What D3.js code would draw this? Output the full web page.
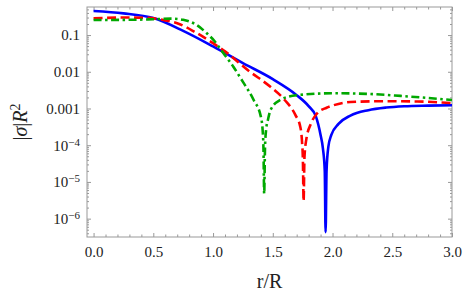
<!DOCTYPE html>
<html>
<head>
<meta charset="utf-8">
<script src="https://cdn.jsdelivr.net/npm/d3@7"></script>
<style>
  body { margin: 0; background: #fff; }
  svg { display: block; }
  text { font-family: "Liberation Serif", "Times New Roman", Times, "DejaVu Serif", serif; }
  .tick text { font-size: 15px; fill: #222; }
  .tick line { stroke: #999; }
</style>
</head>
<body>
<div id="chart"></div>
<script>
// Data: r/R and |sigma| R^2
const blueR = [0, 0.25, 0.5, 0.75, 1.0, 1.25, 1.5, 1.7, 1.8, 1.86, 1.9, 1.92, 1.935, 1.942, 1.95, 1.965, 1.99, 2.05, 2.15, 2.3, 2.45, 2.6, 2.8, 3.0];
const blueV = [0.45, 0.39, 0.29, 0.13, 0.049, 0.0172, 0.0063, 0.00231, 0.00116, 0.00062, 0.00019, 0.00008, 0.00002, 0.00000043, 0.00002, 0.00009, 0.00019, 0.00038, 0.00064, 0.0009, 0.00106, 0.00115, 0.0012, 0.00123];

const redR = [0, 0.25, 0.45, 0.6, 0.7, 0.85, 1.0, 1.1, 1.3, 1.48, 1.6, 1.69, 1.73, 1.745, 1.752, 1.758, 1.765, 1.78, 1.82, 1.87, 1.95, 2.01, 2.15, 2.43, 2.71, 3.0];
const redV = [0.285, 0.3, 0.295, 0.25, 0.21, 0.12, 0.06, 0.036, 0.0105, 0.0039, 0.0017, 0.00066, 0.00032, 0.00012, 0.00004, 0.000003, 0.000045, 0.00014, 0.00039, 0.00073, 0.00105, 0.00123, 0.0015, 0.00158, 0.00155, 0.0014];

const greenR = [0, 0.3, 0.5, 0.65, 0.75, 0.86, 0.95, 1.01, 1.06, 1.17, 1.25, 1.34, 1.4, 1.415, 1.422, 1.428, 1.435, 1.445, 1.46, 1.48, 1.56, 1.7, 2.01, 2.29, 2.57, 3.0];
const greenV = [0.257, 0.26, 0.27, 0.28, 0.26, 0.19, 0.11, 0.07, 0.042, 0.0137, 0.0053, 0.0017, 0.0006, 0.00026, 0.00008, 0.0000048, 0.00009, 0.00028, 0.0005, 0.00089, 0.0017, 0.0023, 0.0026, 0.0025, 0.0022, 0.0017];

const series = [
  {r: blueR, v: blueV, color: '#0000ff', dash: null},
  {r: redR, v: redV, color: '#ff0000', dash: '9,4.5'},
  {r: greenR, v: greenV, color: '#00a800', dash: '8,3.5,2.5,3.5'}
];

const xMajor = [0, 0.5, 1.0, 1.5, 2.0, 2.5, 3.0];
const yMajor = [1e-6, 1e-5, 1e-4, 1e-3, 1e-2, 1e-1];
const yLabels = ['10|-6', '10|-5', '10|-4', '0.001', '0.01', '0.1'];

const w = 464;
const h = 295;
const padding = {t: 7, r: 12, b: 58, l: 87};

const svg = d3.select('#chart')
  .append('svg')
  .attr('width', w)
  .attr('height', h);

const xScale = d3.scaleLinear()
  .domain([-0.055, 3.0])
  .range([padding.l, w - padding.r]);

const yScale = d3.scaleLog()
  .domain([Math.pow(10, -6.5), Math.pow(10, -0.236)])
  .range([h - padding.b, padding.t]);

// minor tick positions
const xMinor = d3.range(0, 31).map(d => d / 10).filter(d => Math.abs(d * 2 - Math.round(d * 2)) > 1e-6);
const yMinor = [];
for (let e = -7; e <= 0; e++) {
  for (let k = 2; k <= 9; k++) {
    const v = k * Math.pow(10, e);
    if (v >= yScale.domain()[0] && v <= yScale.domain()[1]) yMinor.push(v);
  }
}

const bottom = h - padding.b;
const right = w - padding.r;

// x axes (bottom labelled, top mirrored)
svg.append('g')
  .attr('transform', `translate(0, ${bottom})`)
  .call(d3.axisBottom(xScale).tickValues(xMajor).tickSizeInner(-4).tickSizeOuter(0).tickPadding(9).tickFormat(d3.format('.1f')));
svg.append('g')
  .attr('transform', `translate(0, ${bottom})`)
  .call(d3.axisBottom(xScale).tickValues(xMinor).tickSizeInner(-2.5).tickSizeOuter(0).tickFormat(''));
svg.append('g')
  .attr('transform', `translate(0, ${padding.t})`)
  .call(d3.axisTop(xScale).tickValues(xMajor).tickSizeInner(-4).tickSizeOuter(0).tickFormat(''));
svg.append('g')
  .attr('transform', `translate(0, ${padding.t})`)
  .call(d3.axisTop(xScale).tickValues(xMinor).tickSizeInner(-2.5).tickSizeOuter(0).tickFormat(''));

// y axes (left labelled, right mirrored)
const yAxisG = svg.append('g')
  .attr('transform', `translate(${padding.l}, 0)`)
  .call(d3.axisLeft(yScale).tickValues(yMajor).tickSizeInner(-4).tickSizeOuter(0).tickPadding(7).tickFormat((d, i) => yLabels[i]));
svg.append('g')
  .attr('transform', `translate(${padding.l}, 0)`)
  .call(d3.axisLeft(yScale).tickValues(yMinor).tickSizeInner(-2).tickSizeOuter(0).tickFormat(''));
svg.append('g')
  .attr('transform', `translate(${right}, 0)`)
  .call(d3.axisRight(yScale).tickValues(yMajor).tickSizeInner(-4).tickSizeOuter(0).tickFormat(''));
svg.append('g')
  .attr('transform', `translate(${right}, 0)`)
  .call(d3.axisRight(yScale).tickValues(yMinor).tickSizeInner(-2).tickSizeOuter(0).tickFormat(''));

svg.selectAll('.domain').remove();
svg.selectAll('g').attr('font-family', null);

// superscript labels for powers of ten
yAxisG.selectAll('.tick text').each(function() {
  const t = d3.select(this);
  const s = t.text();
  if (s.includes('|')) {
    const parts = s.split('|');
    t.text(parts[0]);
    t.append('tspan')
      .attr('dy', '-0.45em')
      .style('font-size', '11px')
      .text('\u2212' + parts[1].replace('-', ''));
  }
});

// frame
svg.append('rect')
  .attr('x', padding.l)
  .attr('y', padding.t)
  .attr('width', right - padding.l)
  .attr('height', bottom - padding.t)
  .attr('fill', 'none')
  .attr('stroke', '#999')
  .attr('stroke-width', 1);

// curves
svg.append('clipPath')
  .attr('id', 'clip')
  .append('rect')
  .attr('x', padding.l)
  .attr('y', padding.t)
  .attr('width', right - padding.l)
  .attr('height', bottom - padding.t);

const line = d3.line()
  .x(d => xScale(d[0]))
  .y(d => yScale(d[1]))
  .curve(d3.curveMonotoneX);

const plot = svg.append('g').attr('clip-path', 'url(#clip)');
series.forEach(s => {
  plot.append('path')
    .datum(s.r.map((r, i) => [r, s.v[i]]))
    .attr('fill', 'none')
    .attr('stroke', s.color)
    .attr('stroke-width', 2.6)
    .attr('stroke-dasharray', s.dash)
    .attr('d', line);
});

// axis titles
svg.append('text')
  .attr('x', (padding.l + right) / 2)
  .attr('y', 288)
  .attr('text-anchor', 'middle')
  .style('font-size', '20px')
  .style('fill', '#222')
  .text('r/R');

const yTitle = svg.append('text')
  .attr('transform', `translate(27, ${(padding.t + bottom) / 2}) rotate(-90)`)
  .attr('text-anchor', 'middle')
  .style('font-size', '20px')
  .style('fill', '#222');
yTitle.append('tspan').text('|');
yTitle.append('tspan').style('font-style', 'italic').text('\u03c3');
yTitle.append('tspan').text('|');
yTitle.append('tspan').style('font-style', 'italic').text('R');
yTitle.append('tspan').attr('dy', '-0.5em').style('font-size', '14px').text('2');
</script>
</body>
</html>
